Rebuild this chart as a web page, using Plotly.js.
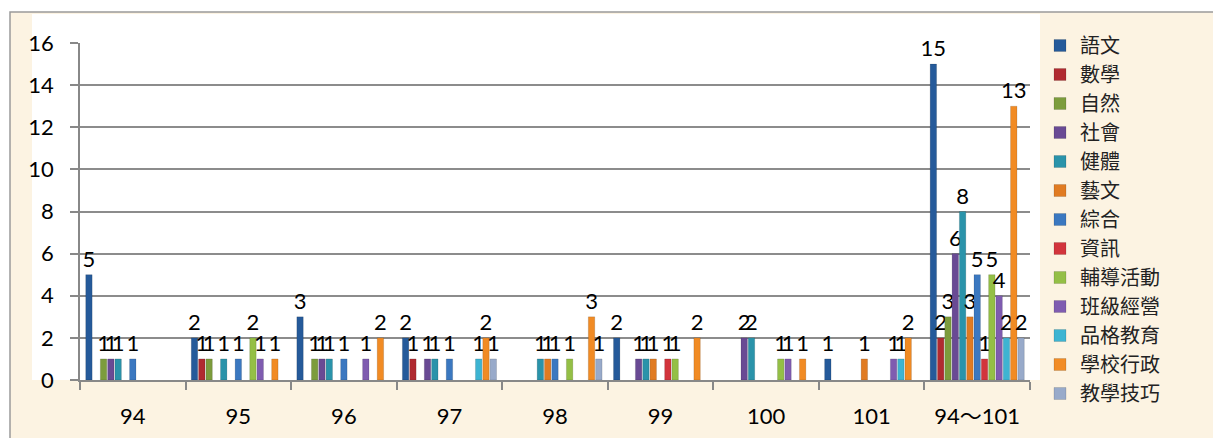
<!DOCTYPE html>
<html>
<head>
<meta charset="utf-8">
<script src="https://cdn.plot.ly/plotly-3.0.1.min.js"></script>
<style>html,body{margin:0;padding:0;background:#fff;}#chart{width:1213px;height:438px;}</style>
</head>
<body>
<div id="chart"></div>
<script>
const categories = ['94', '95', '96', '97', '98', '99', '100', '101', '94～101'];
const seriesNames = ['語文', '數學', '自然', '社會', '健體', '藝文', '綜合', '資訊', '輔導活動', '班級經營', '品格教育', '學校行政', '教學技巧'];
const yuwen      = [5, 2, 3, 2, null, 2, null, 1, 15];
const shuxue     = [null, 1, null, 1, null, null, null, null, 2];
const ziran      = [1, 1, 1, null, null, null, null, null, 3];
const shehui     = [1, null, 1, 1, null, 1, 2, null, 6];
const jianti     = [1, 1, 1, 1, 1, 1, 2, null, 8];
const yiwen      = [null, null, null, null, 1, 1, null, 1, 3];
const zonghe     = [1, 1, 1, 1, 1, null, null, null, 5];
const zixun      = [null, null, null, null, null, 1, null, null, 1];
const fudao      = [null, 2, null, null, 1, 1, 1, null, 5];
const banji      = [null, 1, 1, null, null, null, 1, 1, 4];
const pinge      = [null, null, null, 1, null, null, null, 1, 2];
const xuexiao    = [null, 1, 2, 2, 3, 2, 1, 2, 13];
const jiaoxue    = [null, null, null, 1, 1, null, null, null, 2];
const seriesValues = [yuwen, shuxue, ziran, shehui, jianti, yiwen, zonghe, zixun, fudao, banji, pinge, xuexiao, jiaoxue];
const seriesColors = ['#255A9A', '#B02A30', '#7C9C3C', '#694A94', '#2A93AA', '#E07B22', '#3B78C0', '#D2343C', '#94BF46', '#7F5CB0', '#3DB4D2', '#F18B24', '#98AACA'];
const yTicks = [0, 2, 4, 6, 8, 10, 12, 14, 16];

const numFont = 'Lato, "Noto Sans CJK TC", sans-serif';
const cjkFont = '"Noto Sans CJK TC", sans-serif';

const traces = seriesNames.map((name, i) => ({
  type: 'bar',
  name: name,
  x: categories,
  y: seriesValues[i],
  text: seriesValues[i].map(v => v == null ? '' : String(v)),
  textposition: 'outside',
  constraintext: 'none',
  cliponaxis: false,
  textfont: {family: numFont, size: 22, color: '#000'},
  marker: {color: seriesColors[i], line: {color: 'rgba(0,0,0,0.25)', width: 0.5}},
  hoverinfo: 'x+y+name'
}));

const W = 1213, H = 438, L = 80, R = 1030, T = 43, B = 380;
const px = v => (v - L) / (R - L);
const py = v => (B - v) / (B - T);

const layout = {
  width: W, height: H,
  margin: {l: L, r: W - R, t: T, b: H - B, pad: 0},
  paper_bgcolor: '#ffffff',
  plot_bgcolor: '#ffffff',
  barmode: 'group',
  bargap: 0.1,
  bargroupgap: 0.12,
  showlegend: true,
  legend: {
    x: px(1040), xanchor: 'left', y: py(26), yanchor: 'top',
    font: {family: cjkFont, size: 20, color: '#222'},
    bgcolor: 'rgba(0,0,0,0)', tracegroupgap: 0, itemwidth: 30,
    maxheight: 430
  },
  xaxis: {
    type: 'category',
    tickson: 'boundaries',
    ticks: 'outside', ticklen: 8, tickcolor: '#888', tickwidth: 1.5,
    showline: true, linecolor: '#888', linewidth: 1.5,
    showgrid: false,
    tickfont: {family: numFont, size: 22, color: '#000'},
    ticklabelstandoff: 16
  },
  yaxis: {
    range: [0, 16],
    tickvals: yTicks,
    ticks: 'outside', ticklen: 8, tickcolor: '#888', tickwidth: 1.5,
    showline: true, linecolor: '#888', linewidth: 1.5,
    showgrid: true, gridcolor: '#8c8c8c', gridwidth: 1.5,
    zeroline: false,
    tickfont: {family: numFont, size: 22, color: '#000'},
    ticklabelstandoff: 12
  },
  shapes: [
    {type: 'rect', xref: 'paper', yref: 'paper', layer: 'below',
     x0: px(10), x1: px(1240), y0: py(460), y1: py(12),
     fillcolor: '#FCF3E2', line: {color: '#9a9a9a', width: 1.5}},
    {type: 'rect', xref: 'paper', yref: 'paper', layer: 'below',
     x0: px(32), x1: px(1040), y0: py(380), y1: py(14),
     fillcolor: '#ffffff', line: {width: 0}}
  ]
};

Plotly.newPlot('chart', traces, layout, {displayModeBar: false, responsive: false});
</script>
</body>
</html>
